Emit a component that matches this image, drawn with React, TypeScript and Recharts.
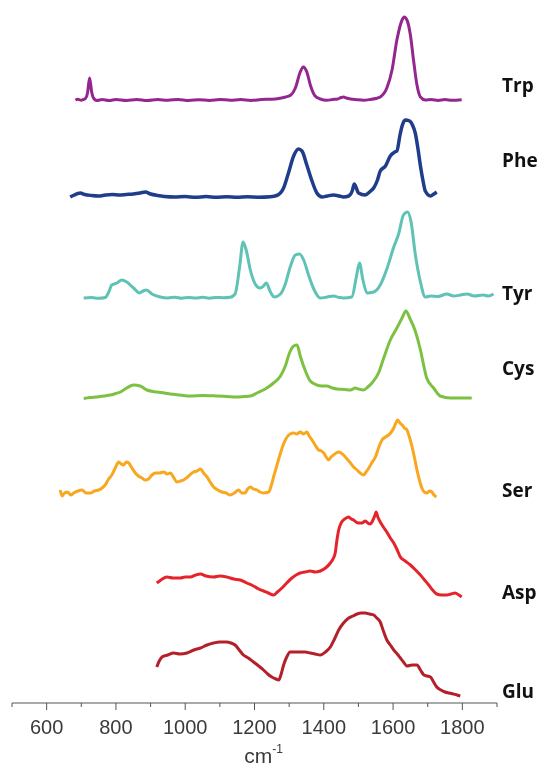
import React from 'react';
import { LineChart, Line, XAxis, YAxis } from 'recharts';

// amino acid spectra, top to bottom
const names = ['Trp', 'Phe', 'Tyr', 'Cys', 'Ser', 'Asp', 'Glu'];
const colors = ['#93278f', '#1f3d8a', '#5ec2b5', '#7cc142', '#f8a71f', '#e5232a', '#b3202a'];
// vertical shift of each trace (stack offset)
const offsets = [603, 506, 405, 305, 208, 108, 7];
// level of the name labels on the right
const labelLevels = [618, 543, 410, 335, 213, 111, 12];
const xTicks = [500, 600, 700, 800, 900, 1000, 1100, 1200, 1300, 1400, 1500, 1600, 1700, 1800, 1900];

// [wavenumber cm-1, intensity]
const trp = [
  [683, 0], [690, 0.8], [700, -0.3], [706, 0.5], [712, 1.5], [718, 7], [724, 22], [730, 8], [736, 1.5], [745, -0.5],
  [760, 0.5], [780, -0.5], [800, 0.6], [830, -0.4], [860, 0.5], [890, -0.6], [920, 0.4], [950, -0.3], [980, 0.6],
  [1010, -0.5], [1040, 0.3], [1070, -0.4], [1100, 0.5], [1130, -0.2], [1160, 0.4], [1190, -0.5], [1220, 0.5],
  [1250, 0.8], [1270, 1.5], [1290, 3], [1305, 5], [1318, 12], [1332, 28], [1341, 33], [1351, 28], [1362, 14],
  [1375, 4], [1390, 1], [1409, -0.3], [1425, 0.5], [1440, 1], [1450, 2.5], [1457, 3], [1465, 2], [1477, 1],
  [1495, 0.3], [1515, -0.2], [1535, 0.6], [1550, 1.5], [1563, 3], [1582, 12], [1597, 30], [1611, 60], [1626, 80],
  [1632, 83], [1640, 80], [1650, 65], [1659, 40], [1669, 15], [1679, 3], [1693, 0], [1710, 0.5], [1730, -0.4],
  [1750, 0.5], [1770, -0.3], [1798, 0.3],
];

const phe = [
  [668, 0], [680, 2], [690, 3.5], [697, 4], [710, 2.5], [730, 1.5], [750, 1], [770, 2], [790, 2.5], [810, 2],
  [830, 2.5], [850, 3], [870, 4], [885, 5], [900, 3], [920, 1.5], [940, 0.5], [970, 0], [1000, 0.5], [1030, -0.3],
  [1060, 0.4], [1090, -0.2], [1120, 0.3], [1150, -0.3], [1180, 0.2], [1210, -0.2], [1246, 0.3], [1264, 1.5],
  [1284, 9], [1298, 24], [1313, 41], [1327, 48], [1337, 46], [1351, 32], [1366, 16], [1380, 4], [1395, 0],
  [1410, 1], [1428, 2], [1445, 1], [1457, 0], [1472, 1], [1482, 6], [1488, 13], [1494, 9], [1500, 4], [1520, 2],
  [1532, 5], [1544, 9], [1555, 17], [1563, 26], [1578, 31], [1592, 41], [1605, 45], [1611, 46], [1620, 62],
  [1626, 71], [1635, 77], [1648, 76], [1656, 72], [1664, 64], [1672, 48], [1679, 31], [1686, 17], [1693, 6],
  [1708, 1], [1718, 3], [1726, 5],
];

const tyr = [
  [707, 0], [730, 0.5], [750, -0.3], [769, 0.5], [778, 5], [788, 13], [803, 15], [817, 18], [831, 16], [851, 10],
  [868, 5], [878, 7], [888, 8], [904, 4], [928, 1], [950, 0], [970, 0.8], [990, -0.2], [1010, 0.6], [1030, 0],
  [1050, 0.7], [1070, -0.2], [1090, 0.5], [1110, 0.3], [1130, 0.8], [1144, 4], [1157, 31], [1167, 56], [1176, 48],
  [1188, 28], [1202, 14], [1216, 10], [1226, 12], [1234, 15], [1246, 6], [1257, 1], [1275, 4], [1289, 14],
  [1303, 31], [1318, 43], [1330, 44], [1342, 38], [1356, 23], [1371, 9], [1390, 0], [1410, 1], [1428, 2],
  [1445, 0.5], [1457, 0], [1481, 1], [1494, 21], [1503, 35], [1513, 18], [1525, 5], [1544, 6], [1563, 13],
  [1582, 29], [1602, 51], [1616, 64], [1630, 83], [1642, 86], [1652, 76], [1664, 44], [1679, 16], [1693, 1],
  [1710, 2], [1730, 1.5], [1755, 4], [1775, 2], [1795, 3], [1813, 4], [1835, 2], [1860, 3], [1875, 2], [1890, 4],
];

const cys = [
  [707, -0.5], [725, 0.5], [745, 1], [765, 2], [784, 3], [800, 4.5], [813, 6], [831, 10], [851, 13], [870, 12],
  [889, 8], [918, 6], [940, 5], [957, 4], [985, 3], [1015, 2], [1050, 2.5], [1091, 2], [1120, 1.5], [1149, 1],
  [1170, 1.5], [1188, 2], [1207, 5], [1231, 9], [1255, 15], [1275, 22], [1289, 32], [1301, 45], [1313, 52],
  [1323, 53], [1332, 42], [1347, 27], [1361, 17], [1380, 13], [1395, 12], [1409, 12], [1425, 10], [1438, 9],
  [1460, 8.5], [1477, 8], [1491, 10], [1500, 9], [1515, 8], [1527, 11], [1539, 15], [1558, 25], [1573, 40],
  [1592, 58], [1611, 70], [1626, 80], [1637, 87], [1648, 80], [1664, 67], [1679, 48], [1690, 30], [1697, 20],
  [1717, 10], [1736, 2], [1765, 0], [1795, 0], [1827, 0],
];

const ser = [
  [639, 5], [645, -1], [649, 1], [660, 3], [670, 0], [678, 2], [690, 4], [702, 5], [714, 2], [726, 2], [738, 4],
  [750, 5], [760, 7], [769, 10], [779, 16], [788, 20], [798, 27], [808, 33], [815, 31], [822, 30], [830, 33],
  [837, 32], [846, 27], [856, 22], [865, 19], [875, 17], [885, 15], [894, 16], [904, 20], [914, 22], [926, 22],
  [938, 23], [948, 21], [957, 22], [966, 18], [976, 13], [986, 14], [995, 15], [1010, 19], [1024, 23], [1034, 24],
  [1044, 26], [1053, 22], [1063, 18], [1072, 13], [1082, 8], [1094, 5], [1106, 3], [1118, 2], [1130, 0],
  [1142, 2], [1154, 5], [1163, 2], [1173, 2], [1180, 6], [1188, 8], [1197, 6], [1207, 5], [1216, 3], [1226, 2],
  [1241, 3], [1248, 9], [1255, 18], [1265, 30], [1275, 42], [1285, 52], [1294, 58], [1303, 61], [1313, 62],
  [1322, 61], [1332, 63], [1342, 61], [1351, 63], [1358, 59], [1366, 55], [1375, 50], [1385, 45], [1393, 44],
  [1400, 42], [1407, 38], [1414, 35], [1421, 38], [1428, 40], [1436, 42], [1443, 43], [1450, 42], [1457, 40],
  [1467, 36], [1477, 32], [1486, 28], [1496, 25], [1505, 22], [1515, 20], [1522, 23], [1530, 27], [1540, 33],
  [1549, 38], [1558, 47], [1568, 55], [1578, 58], [1587, 60], [1595, 63], [1602, 67], [1608, 72], [1613, 75],
  [1620, 72], [1626, 70], [1633, 67], [1640, 65], [1648, 57], [1655, 48], [1662, 37], [1669, 25], [1676, 15],
  [1683, 7], [1690, 3], [1698, 2], [1705, 4], [1712, 3], [1718, 0], [1725, -2],
];

const asp = [
  [918, 12], [930, 15], [947, 18], [965, 17], [986, 17], [1000, 18], [1015, 18], [1030, 20], [1044, 21],
  [1060, 19], [1082, 18], [1100, 19], [1120, 18], [1140, 16], [1159, 15], [1178, 12], [1197, 9], [1212, 6],
  [1226, 4], [1240, 2], [1255, 0], [1266, 3], [1279, 7], [1293, 12], [1308, 17], [1320, 20], [1332, 22],
  [1346, 23], [1361, 24], [1375, 23], [1390, 24], [1405, 27], [1419, 32], [1428, 37], [1433, 42], [1438, 55],
  [1443, 65], [1450, 72], [1457, 75], [1465, 77], [1472, 78], [1479, 76], [1486, 75], [1493, 73], [1500, 72],
  [1510, 72], [1520, 74], [1527, 72], [1534, 71], [1542, 75], [1548, 80], [1551, 83], [1556, 78], [1563, 73],
  [1572, 68], [1582, 63], [1592, 57], [1602, 52], [1612, 45], [1621, 38], [1635, 34], [1650, 30], [1665, 25],
  [1679, 20], [1691, 15], [1703, 10], [1714, 5], [1726, 1], [1740, 0], [1755, 0], [1767, 1], [1779, 2],
  [1790, 0], [1798, -2],
];

const glu = [
  [918, 29], [925, 35], [933, 39], [950, 41], [966, 43], [985, 42], [1005, 43], [1025, 46], [1044, 48],
  [1063, 51], [1082, 53], [1100, 54], [1120, 54], [1132, 53], [1144, 51], [1156, 46], [1168, 41], [1182, 38],
  [1197, 34], [1212, 30], [1226, 26], [1238, 22], [1250, 19], [1262, 17], [1270, 16], [1277, 22], [1284, 31],
  [1293, 39], [1303, 44], [1318, 44], [1332, 44], [1347, 44], [1361, 43], [1375, 42], [1390, 41], [1405, 44],
  [1419, 49], [1431, 57], [1443, 66], [1457, 73], [1472, 78], [1484, 80], [1496, 82], [1508, 83], [1520, 83],
  [1532, 82], [1544, 81], [1553, 78], [1563, 74], [1572, 65], [1582, 56], [1592, 51], [1602, 46], [1612, 42],
  [1621, 38], [1630, 34], [1640, 30], [1655, 31], [1669, 31], [1679, 26], [1689, 21], [1698, 20], [1708, 19],
  [1717, 14], [1726, 9], [1738, 6], [1750, 4], [1762, 3], [1774, 2], [1785, 1], [1794, 0],
];

const spectra = [trp, phe, tyr, cys, ser, asp, glu];

const toPoints = (pairs: number[][], offset: number) =>
  pairs.map(([x, v]) => ({ x, y: offset + v }));

const WaveTick = (props: any) => {
  const { x, y, payload } = props;
  const major = payload.value % 200 === 0;
  return (
    <g>
      <line x1={x} y1={y} x2={x} y2={y + (major ? 7 : 4)} stroke="#555" strokeWidth={1} />
      {major && (
        <text x={x} y={y + 31} textAnchor="middle" fontSize={20} fill="#3a3a3a"
          fontFamily="'Liberation Sans', Arial, sans-serif">
          {payload.value}
        </text>
      )}
    </g>
  );
};

const NameTick = (props: any) => {
  const { x, y, payload } = props;
  const i = labelLevels.indexOf(payload.value);
  return (
    <text x={x + 5} y={y} dy="0.35em" textAnchor="start" fontSize={19} fontWeight="bold"
      fill="#111" fontFamily="'Open Sans', sans-serif">
      {names[i]}
    </text>
  );
};

const CmLabel = (props: any) => {
  const vb = props.viewBox || { x: 12, y: 703, width: 485 };
  return (
    <text x={vb.x + vb.width / 2 + 9} y={vb.y + 60} textAnchor="middle" fontSize={21} fill="#3a3a3a"
      fontFamily="'Liberation Sans', Arial, sans-serif">
      cm<tspan fontSize={12} dy={-10}>-1</tspan>
    </text>
  );
};

export default function App() {
  // fixed so the body margin does not push the page into a scrollbar
  return (
    <div style={{ position: 'fixed', left: 0, top: 0, width: 542, height: 767 }}>
      <LineChart width={542} height={767} margin={{ top: 10, right: 0, bottom: 8, left: 12 }}>
        <XAxis
          type="number"
          dataKey="x"
          domain={[500, 1900]}
          ticks={xTicks}
          interval={0}
          tickLine={false}
          tickSize={0}
          tickMargin={0}
          height={56}
          stroke="#555"
          tick={<WaveTick />}
          label={{ content: CmLabel }}
        />
        <YAxis
          type="number"
          orientation="right"
          domain={[0, 693]}
          ticks={labelLevels}
          interval={0}
          axisLine={false}
          tickLine={false}
          tickSize={0}
          tickMargin={0}
          width={45}
          tick={<NameTick />}
        />
        {spectra.map((s, i) => (
          <Line
            key={names[i]}
            data={toPoints(s, offsets[i])}
            dataKey="y"
            type="monotone"
            stroke={colors[i]}
            strokeWidth={i === 1 ? 3.5 : 3}
            strokeLinejoin="round"
            dot={false}
            activeDot={false}
            isAnimationActive={false}
          />
        ))}
      </LineChart>
    </div>
  );
}
